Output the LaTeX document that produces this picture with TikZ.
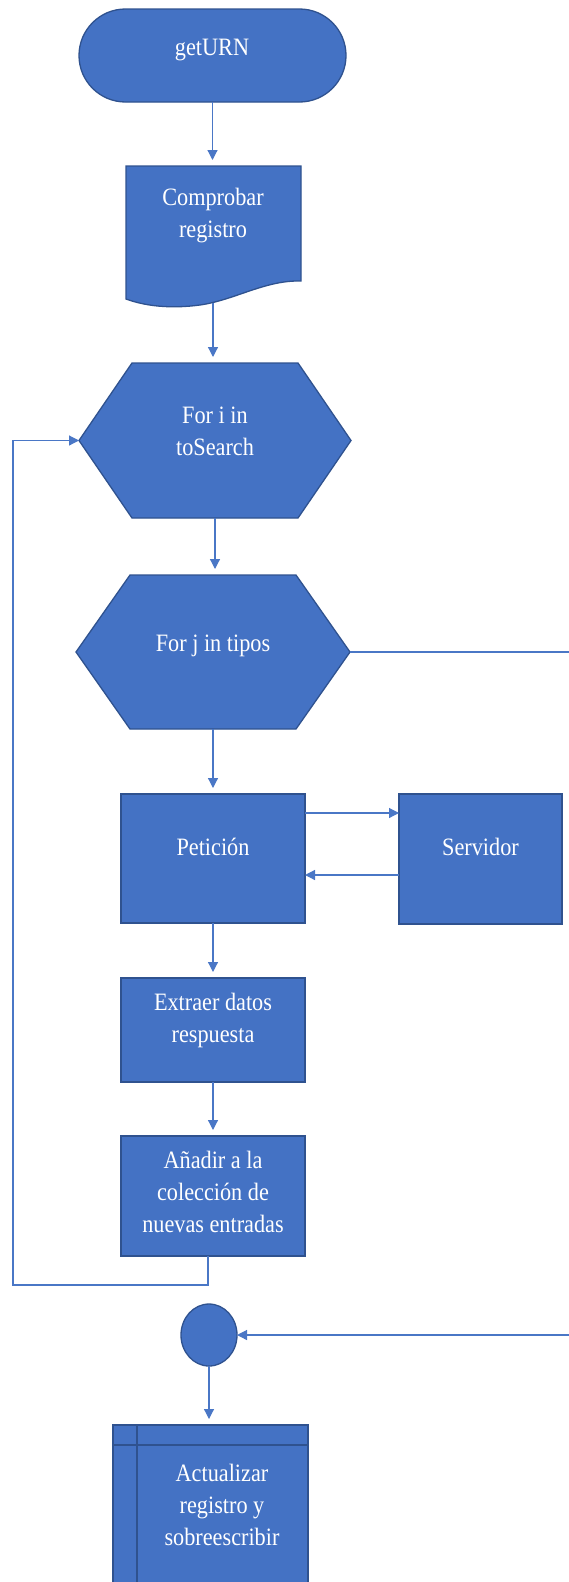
\documentclass[tikz,border=0pt]{standalone}
\usepackage{fontspec}
\setmainfont{Liberation Serif}[FakeStretch=0.89]
\usetikzlibrary{shapes.geometric,arrows.meta,calc}
\definecolor{boxfill}{HTML}{4472C4}
\definecolor{boxline}{HTML}{2F528F}
\definecolor{wirecol}{HTML}{4A77C6}
\begin{document}
\begin{tikzpicture}[x=1pt,y=-1pt,
  frame/.style={rectangle, draw=none, inner sep=0pt, outer sep=0pt},
  blk/.style={fill=boxfill, draw=boxline, line width=1.3pt},
  blknode/.style={blk, rectangle, inner sep=0pt, outer sep=0pt},
  txt/.style={text=white, font=\fontsize{25}{32}\selectfont, align=center, anchor=base, inner sep=0pt},
  link/.style={draw=wirecol, line width=1.2pt},
  arr/.style={link, -{Triangle[length=10pt,width=10pt]}},
  varr/.style={arr, shorten >=6pt},
]
\useasboundingbox (0,0) rectangle (569,1582);

% terminator
\node[blknode, rounded corners=46.5pt, minimum width=267pt, minimum height=93pt] (T) at (212.5,55.5) {};

% document
\node[frame, minimum width=175pt, minimum height=141pt] (D) at (213.5,236.5) {};
\filldraw[blk] (D.north west) -- (D.north east) -- (301,281)
  .. controls (265,280) and (235,300) .. (200,305)
  .. controls (170,309) and (145,306) .. (126,299) -- cycle;
\coordinate (Dout) at (213,303);

% hexagon 1
\node[frame, minimum width=272pt, minimum height=155pt] (H1) at (215,440.5) {};
\filldraw[blk] (H1.west) -- ($(H1.north west)+(53,0)$) -- ($(H1.north east)+(-53,0)$)
  -- (H1.east) -- ($(H1.south east)+(-53,0)$) -- ($(H1.south west)+(53,0)$) -- cycle;

% hexagon 2
\node[frame, minimum width=274pt, minimum height=154pt] (H2) at (213,652) {};
\filldraw[blk] (H2.west) -- ($(H2.north west)+(54,0)$) -- ($(H2.north east)+(-54,0)$)
  -- (H2.east) -- ($(H2.south east)+(-54,0)$) -- ($(H2.south west)+(54,0)$) -- cycle;

% process boxes
\node[blknode, minimum width=184pt, minimum height=129pt] (P) at (213,858.5) {};
\node[blknode, minimum width=163pt, minimum height=130pt] (S) at (480.5,859) {};
\node[blknode, minimum width=184pt, minimum height=104pt] (E) at (213,1030) {};
\node[blknode, minimum width=184pt, minimum height=120pt] (A) at (213,1196) {};

% connector circle
\node[blk, ellipse, inner sep=0pt, outer sep=0pt, minimum width=56pt, minimum height=62pt] (C) at (209,1335) {};

% predefined process
\node[blknode, minimum width=195pt, minimum height=185pt] (B) at (210.5,1517.5) {};
\draw[boxline, line width=1.3pt] (B.north west -| 137,0) -- (B.south west -| 137,0);
\draw[boxline, line width=1.3pt] (B.north west |- 0,1445) -- (B.north east |- 0,1445);

% texts (base = baseline of the last line)
\node[txt] (tT) at (212,55) {getURN};
\node[txt] (tD) at (213,237) {Comprobar\\registro};
\node[txt] (tH1) at (215,455) {For i in\\toSearch};
\node[txt] (tH2) at (213,651) {For j in tipos};
\node[txt] (tP) at (213,855) {Petición};
\node[txt] (tS) at (480.5,855) {Servidor};
\node[txt] (tE) at (213,1042) {Extraer datos\\respuesta};
\node[txt] (tA) at (213,1232) {Añadir a la\\colección de\\nuevas entradas};
\node[txt] (tB) at (222,1545) {Actualizar\\registro y\\sobreescribir};

% connectors
\draw[varr] (T.south) -- (T.south |- D.north);
\draw[varr] (Dout) -- (Dout |- H1.north);
\draw[varr] (H1.south) -- (H1.south |- H2.north);
\draw[varr] (H2.south) -- (H2.south |- P.north);
\draw[arr] (P.east |- 0,813) -- (S.west |- 0,813);
\draw[arr] (S.west |- 0,875) -- (P.east |- 0,875);
\draw[varr] (P.south) -- (P.south |- E.north);
\draw[varr] (E.south) -- (E.south |- A.north);
\coordinate (Aout) at (A.south -| 208,0);
\coordinate (Lcorner) at (13,1285);
\draw[arr] (Aout) |- (Lcorner) |- (H1.west);
\coordinate (Rcorner) at (575,1000);
\draw[arr] (H2.east) -| (Rcorner) |- (C.east);
\draw[varr] (C.south) -- (C.south |- B.north);
\end{tikzpicture}
\end{document}
